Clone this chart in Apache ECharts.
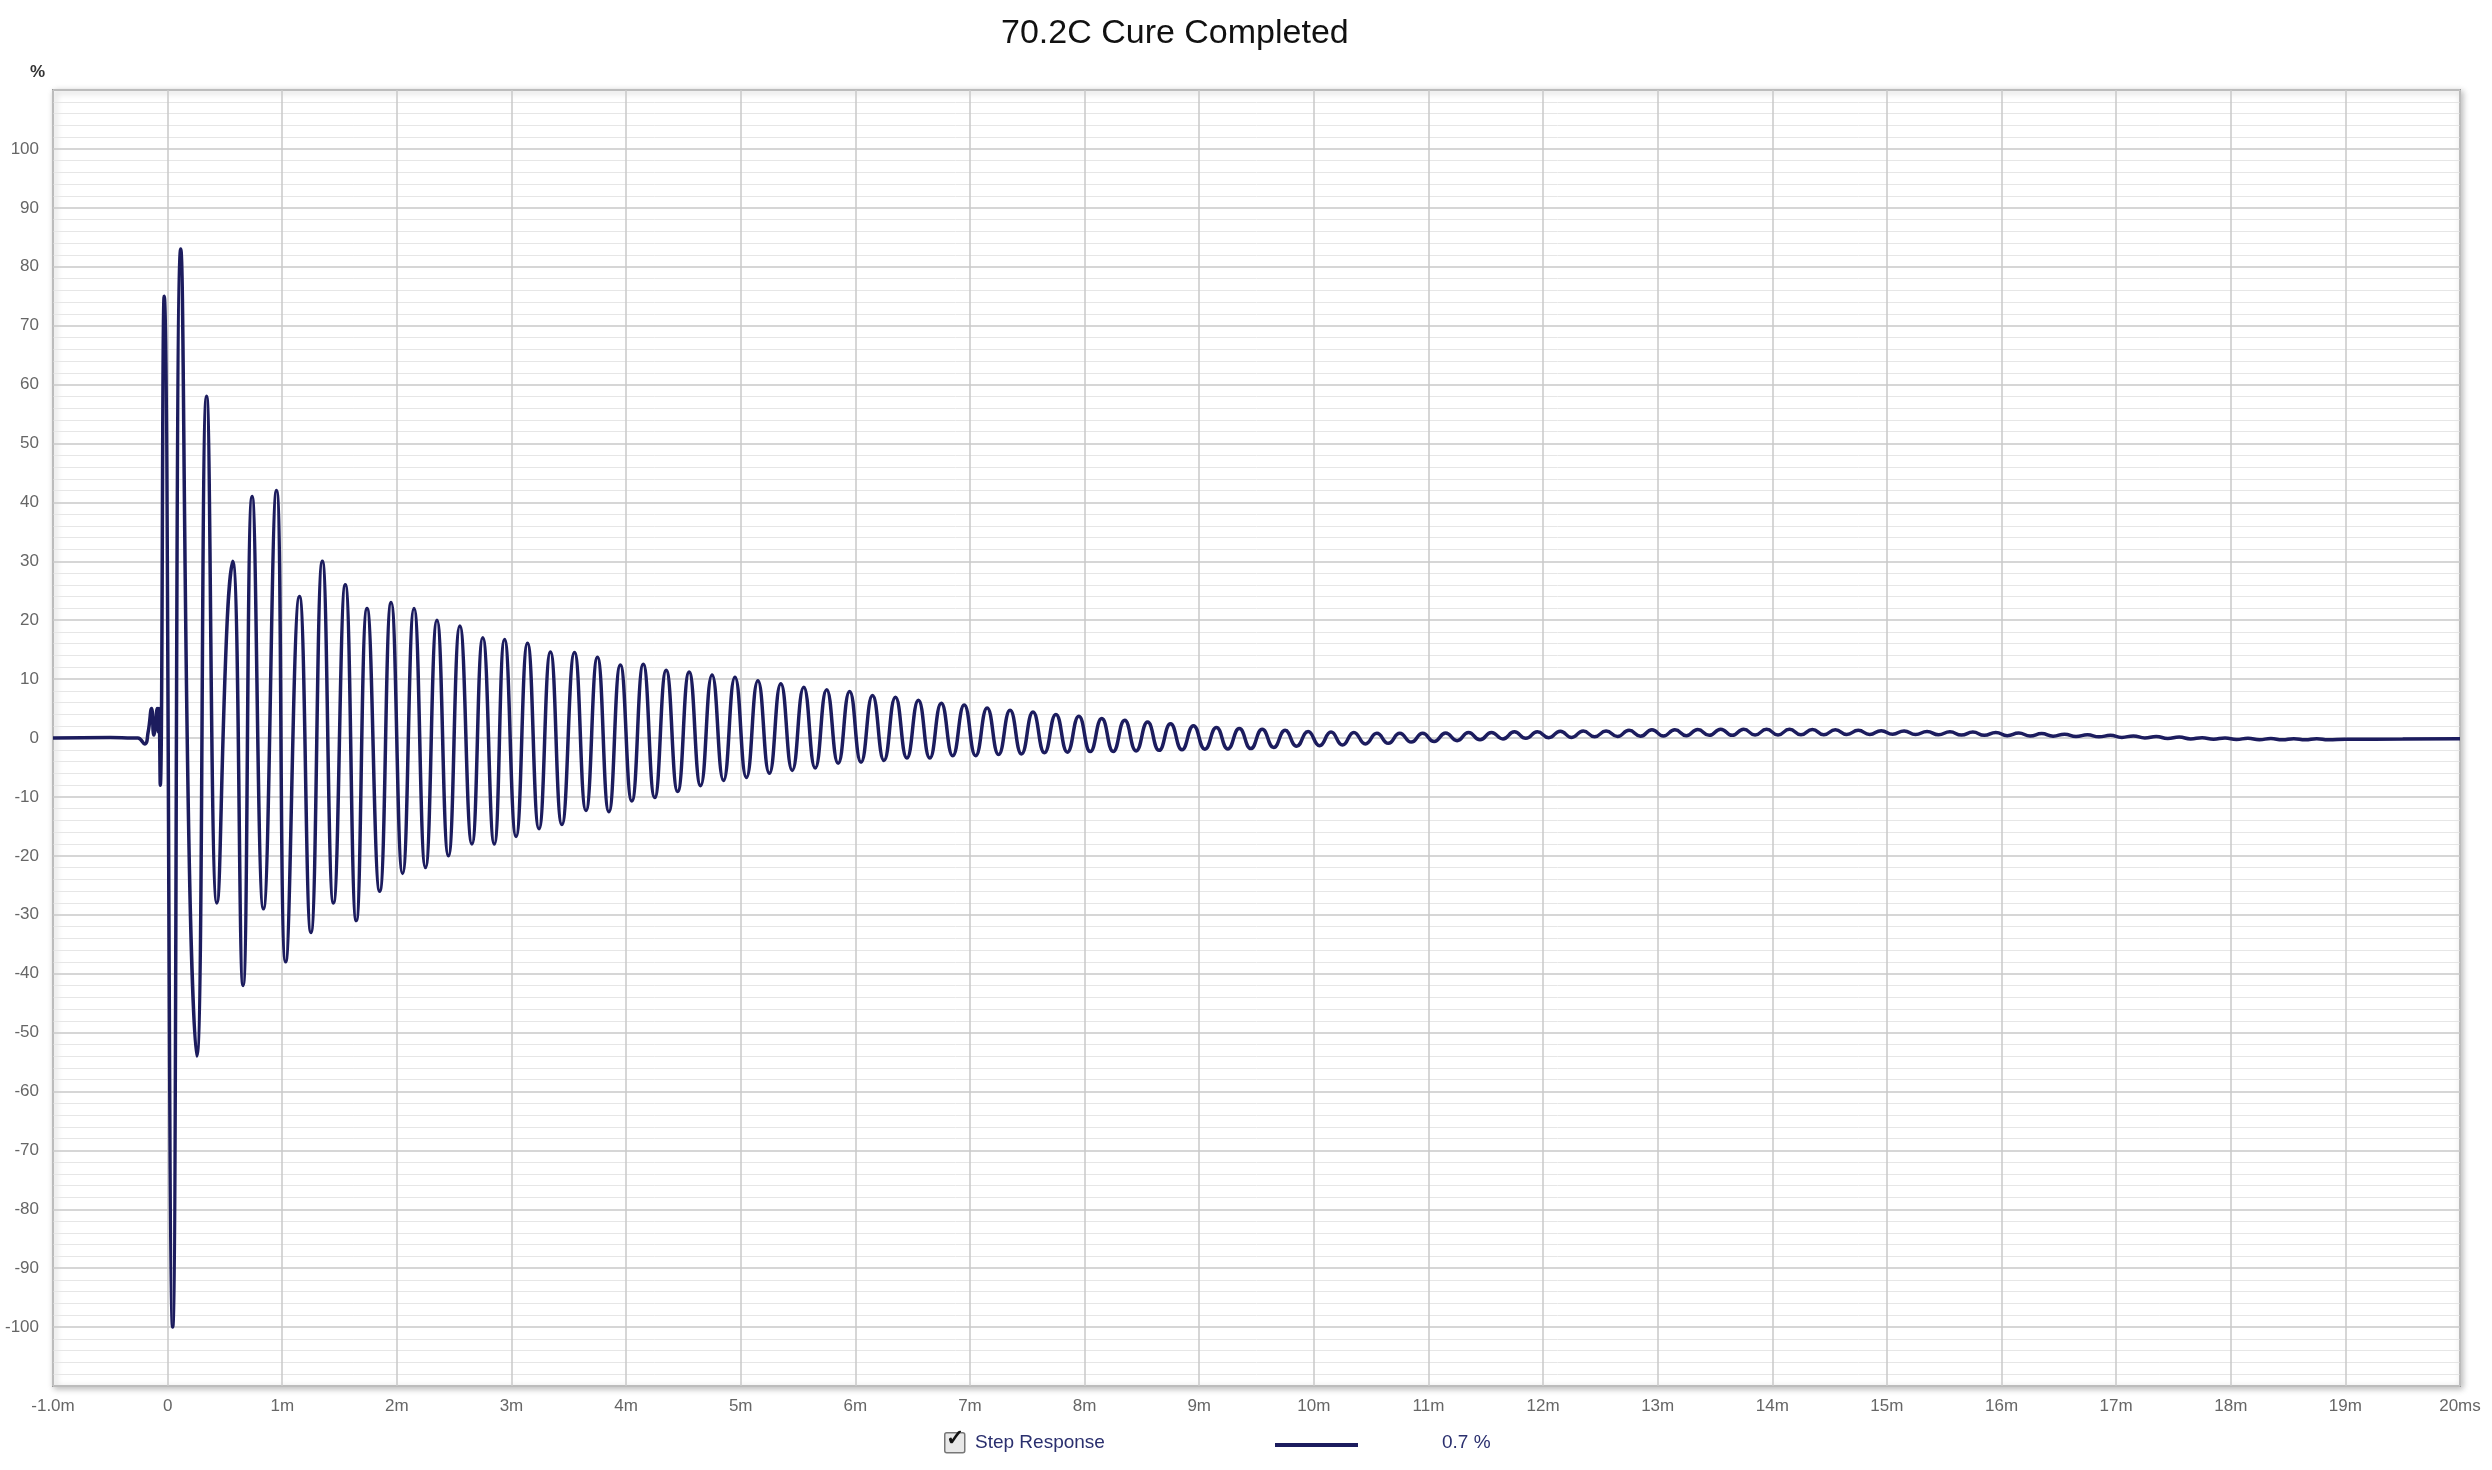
<!DOCTYPE html>
<html>
<head>
<meta charset="UTF-8">
<title>70.2C Cure Completed</title>
<script src="https://cdn.jsdelivr.net/npm/echarts@6/dist/echarts.min.js"></script>
<style>
  html, body { margin: 0; padding: 0; background: #fff; }
  #chart { width: 2492px; height: 1470px; }
</style>
</head>
<body>
<div id="chart"></div>
<script>
// step response, times in ms, values in %  (extremes)
var earlyTimes = [-1.0, -0.5, -0.3, -0.26, -0.2, -0.17, -0.14, -0.12, -0.09, -0.08, -0.075, -0.064, -0.03, 0.044, 0.114, 0.19, 0.254, 0.34, 0.43, 0.52, 0.567, 0.658, 0.737, 0.836, 0.95, 1.03, 1.15, 1.25, 1.35, 1.447, 1.55, 1.646, 1.74, 1.85, 1.95, 2.05, 2.15, 2.25, 2.35, 2.45, 2.55, 2.655, 2.75, 2.85];
var earlyValues = [0, 0.1, 0, 0, -1, 1, 5, 0.5, 5, 1, 5, -8, 75, -100, 83, -22, -54, 58, -28, 20, 30, -42, 41, -29, 42, -38, 24, -33, 30, -28, 26, -31, 22, -26, 23, -23, 22, -22, 20, -20, 19, -18, 17, -18];

var peakTimes = [2.94, 3.14, 3.34, 3.55, 3.75, 3.95, 4.15, 4.35, 4.55, 4.75, 4.95, 5.15, 5.35, 5.55, 5.75, 5.95, 6.15, 6.35, 6.55, 6.75, 6.95, 7.15, 7.35, 7.55, 7.75, 7.95,
  8.15, 8.35, 8.55, 8.75, 8.95, 9.15, 9.35, 9.55, 9.75, 9.95, 10.15, 10.35, 10.55, 10.75, 10.95, 11.15, 11.35, 11.55, 11.75, 11.95, 12.15, 12.35, 12.55, 12.75, 12.95, 13.15, 13.35, 13.55, 13.75, 13.95,
  14.15, 14.35, 14.55, 14.75, 14.95, 15.15, 15.35, 15.55, 15.75, 15.95, 16.15, 16.35, 16.55, 16.75, 16.95, 17.15, 17.35, 17.55, 17.75, 17.95, 18.15, 18.35, 18.55, 18.75];
var peakValues = [16.7, 16.1, 14.6, 14.5, 13.7, 12.4, 12.5, 11.5, 11.2, 10.7, 10.3, 9.7, 9.2, 8.6, 8.2, 7.9, 7.2, 6.9, 6.4, 5.9, 5.6, 5.1, 4.7, 4.4, 4.0, 3.7,
  3.3, 3.0, 2.7, 2.4, 2.1, 1.8, 1.6, 1.5, 1.3, 1.1, 1.0, 0.95, 0.8, 0.8, 0.8, 0.85, 0.95, 0.95, 1.05, 1.05, 1.15, 1.2, 1.2, 1.3, 1.4, 1.4, 1.45, 1.5, 1.5, 1.5,
  1.5, 1.45, 1.4, 1.3, 1.25, 1.2, 1.1, 1.05, 1.0, 0.95, 0.85, 0.75, 0.65, 0.55, 0.45, 0.35, 0.25, 0.15, 0.05, 0.0, -0.05, -0.1, -0.12, -0.12];
var troughTimes = [3.04, 3.24, 3.44, 3.65, 3.85, 4.05, 4.25, 4.45, 4.65, 4.85, 5.05, 5.25, 5.45, 5.65, 5.85, 6.05, 6.25, 6.45, 6.65, 6.85, 7.05, 7.25, 7.45, 7.65, 7.85,
  8.05, 8.25, 8.45, 8.65, 8.85, 9.05, 9.25, 9.45, 9.65, 9.85, 10.05, 10.25, 10.45, 10.65, 10.85, 11.05, 11.25, 11.45, 11.65, 11.85, 12.05, 12.25, 12.45, 12.65, 12.85, 13.05, 13.25, 13.45, 13.65, 13.85,
  14.05, 14.25, 14.45, 14.65, 14.85, 15.05, 15.25, 15.45, 15.65, 15.85, 16.05, 16.25, 16.45, 16.65, 16.85, 17.05, 17.25, 17.45, 17.65, 17.85, 18.05, 18.25, 18.45, 18.65, 18.85];
var troughValues = [-16.7, -15.4, -14.7, -12.3, -12.5, -10.7, -10.1, -9.1, -8.1, -7.2, -6.7, -6.0, -5.5, -5.1, -4.3, -4.1, -3.8, -3.4, -3.4, -3.0, -3.0, -2.8, -2.7, -2.5, -2.4,
  -2.3, -2.3, -2.2, -2.1, -2.0, -1.9, -1.85, -1.8, -1.6, -1.4, -1.3, -1.2, -1.0, -0.9, -0.7, -0.6, -0.45, -0.3, -0.15, -0.05, 0.05, 0.1, 0.2, 0.25, 0.3, 0.35, 0.4, 0.45, 0.45, 0.5,
  0.5, 0.55, 0.55, 0.6, 0.6, 0.65, 0.6, 0.55, 0.5, 0.45, 0.4, 0.35, 0.3, 0.25, 0.2, 0.1, 0.0, -0.08, -0.15, -0.2, -0.25, -0.28, -0.3, -0.3, -0.3];
var tailTimes = [19.0, 19.5, 20.0];
var tailValues = [-0.22, -0.18, -0.12];

var xTicks = [-1, 0, 1, 2, 3, 4, 5, 6, 7, 8, 9, 10, 11, 12, 13, 14, 15, 16, 17, 18, 19, 20];

var pts = [];
for (var i = 0; i < earlyTimes.length; i++) pts.push([earlyTimes[i], earlyValues[i]]);
for (var i = 0; i < peakTimes.length; i++) pts.push([peakTimes[i], peakValues[i]]);
for (var i = 0; i < troughTimes.length; i++) pts.push([troughTimes[i], troughValues[i]]);
for (var i = 0; i < tailTimes.length; i++) pts.push([tailTimes[i], tailValues[i]]);
pts.sort(function (a, b) { return a[0] - b[0]; });

var chart = echarts.init(document.getElementById('chart'));
var labelFont = { color: '#666', fontSize: 17, fontFamily: 'Liberation Sans, Arial' };

chart.setOption({
  animation: false,
  backgroundColor: '#fff',
  title: {
    text: '70.2C Cure Completed', left: 996, top: 12,
    textStyle: { fontSize: 34, fontWeight: 'normal', color: '#111', fontFamily: 'Liberation Sans, Arial' }
  },
  grid: { left: 53, right: 32, top: 90, bottom: 84, show: true, borderColor: '#999', borderWidth: 2,
    shadowColor: 'rgba(0,0,0,0.25)', shadowBlur: 6, shadowOffsetX: 2, shadowOffsetY: 2, backgroundColor: '#fff' },
  xAxis: {
    type: 'value', min: -1, max: 20, interval: 1,
    axisLine: { show: false }, axisTick: { show: false },
    axisLabel: Object.assign({ margin: 12, formatter: function (v) {
      if (v === xTicks[0]) return '-1.0m';
      if (v === 0) return '0';
      if (v === xTicks[xTicks.length - 1]) return '20ms';
      return v + 'm';
    } }, labelFont),
    splitLine: { lineStyle: { color: '#c8c8c8', width: 1.5 } }
  },
  yAxis: {
    type: 'value', min: -110, max: 110, interval: 10,
    axisLine: { show: false }, axisTick: { show: false },
    axisLabel: Object.assign({ margin: 14, formatter: function (v) { return Math.abs(v) > 100 ? '' : v; } }, labelFont),
    splitLine: { lineStyle: { color: '#c8c8c8', width: 1.5 } },
    minorTick: { show: false, splitNumber: 5 },
    minorSplitLine: { show: true, lineStyle: { color: '#e6e6e6', width: 1 } }
  },
  series: [{
    name: 'Step Response', type: 'line', data: pts, showSymbol: false, smooth: 0.5,
    lineStyle: { color: '#1c1c5e', width: 3.5 }
  }],
  graphic: [
    { type: 'text', left: 30, top: 64, style: { text: '%', fontSize: 17, fontWeight: 'bold', fill: '#333', fontFamily: 'Liberation Sans, Arial' } },
    { type: 'rect', left: 944, top: 1432, shape: { width: 20, height: 20, r: 2 },
      style: { fill: '#e8e8e8', stroke: '#777', lineWidth: 1.5 } },
    { type: 'text', left: 946, top: 1428, style: { text: '✓', fontSize: 22, fontWeight: 'bold', fill: '#111' } },
    { type: 'text', left: 975, top: 1433, style: { text: 'Step Response', fontSize: 19, fill: '#2a2f6e', fontFamily: 'Liberation Sans, Arial' } },
    { type: 'line', shape: { x1: 1275, y1: 1445, x2: 1358, y2: 1445 }, style: { stroke: '#1c1c5e', lineWidth: 4 } },
    { type: 'text', left: 1442, top: 1433, style: { text: '0.7 %', fontSize: 19, fill: '#2a2f6e', fontFamily: 'Liberation Sans, Arial' } }
  ]
});
</script>
</body>
</html>
